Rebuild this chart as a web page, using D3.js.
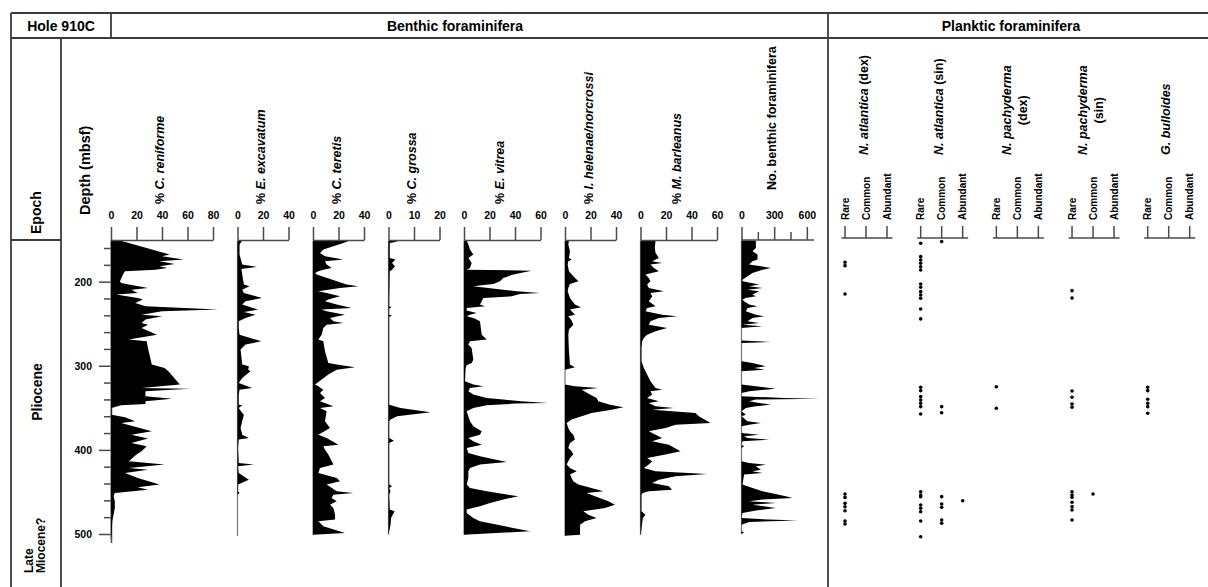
<!DOCTYPE html>
<html>
<head>
<meta charset="utf-8">
<script src="https://cdn.jsdelivr.net/npm/d3@7"></script>
<style>
	body { margin: 0; background: #fff; }
	text { font-family: 'Liberation Sans', Arial, sans-serif; font-weight: bold; fill: #000; }
</style>
</head>
<body>
<div id="chart-area"></div>
<script>

// depth (mbsf), value
const reniforme = [[151.2,7],[167.8,46],[169.8,40],[173.8,57],[175.8,38],[178.9,50],[181.7,38],[183.7,44],[185.7,35],[187.7,11],[189.6,10],[199.5,7],[201.5,8],[203.5,14],[207.5,29],[209.5,16],[213.4,21],[215.4,4],[219.4,21],[221.3,25],[225.3,19],[229.3,27],[233.2,84],[235.2,40],[239.2,24],[241.2,40],[245.1,27],[249.1,24],[251.1,29],[255,24],[263,36],[268.9,14],[270.9,28],[278.8,29],[298.6,32],[302.6,42],[306.6,45],[322.4,54],[326.4,24],[327.2,62],[330.3,27],[336.3,27],[339.1,48],[342.2,27],[345.4,27],[347,8],[350.2,0.5],[358.1,0.5],[361.3,11],[366,19],[368,8],[377.9,32],[381.9,16],[386.6,29],[391.8,16],[395.7,28],[401.7,24],[405.6,20],[413.6,14],[417.5,42],[421.5,14],[423.5,29],[427.4,11],[433.4,21],[441.3,38],[444.5,21],[447.3,29],[451.2,3],[455.2,2],[461.1,3],[469.1,3],[477,2],[484.9,1],[500.8,0.5],[506.7,0]];

const excavatum = [[151.2,3.7],[155.9,1.6],[167.8,1.6],[179.7,3.7],[182.5,15.4],[184.9,3.1],[191.6,3.7],[203.5,5],[205.5,9.4],[209.5,3.7],[213.4,5],[219.4,19.3],[223.3,6.3],[227.3,3.7],[233.2,16],[236,5],[239.2,14.1],[243.1,6.3],[247.1,1],[255,1],[263,1.6],[270.9,18.6],[274.8,6.3],[280.8,2.4],[298.6,3.7],[300.6,8.9],[304.6,8.4],[306.6,10.2],[314.5,3.7],[320.4,1],[326.4,11.5],[328.4,1.6],[334.3,1],[346.2,1],[347,3.7],[350.2,1],[356.1,3.7],[358.1,5],[366,3.7],[373.9,2.4],[381.9,3.7],[385.8,8.9],[387.8,1],[397.7,0.5],[415.6,1],[417.5,12.8],[419.5,0.5],[427.4,1],[435.4,8.9],[441.3,0.5],[449.2,0.5],[451.2,1.6],[453.2,0],[502.5,0]];

const teretis = [[151.2,29],[154,23.8],[161.9,8.1],[165.9,5.5],[169.8,9.4],[173.8,23.8],[175.8,9.4],[179.7,10.7],[183.7,14.6],[185.7,8.1],[187.7,4.2],[189.6,1.6],[191.6,2.9],[203.5,26.4],[205.5,35.6],[207.5,21.2],[211.4,4.2],[213.4,10.7],[217.4,21.2],[221.3,12],[223.3,9.4],[227.3,18.6],[231.3,30.3],[233.2,6.8],[235.2,10.7],[239.2,25.1],[243.1,13.3],[247.1,16],[249.1,23.8],[251.1,10.7],[255,8.1],[263,6.8],[268.9,4.2],[270.9,8.1],[282.8,9.4],[296.6,12],[298.6,18.6],[301.8,32.9],[304.6,18.6],[310.5,12],[322.4,1.6],[324.4,4.2],[328.4,8.1],[332.3,5.5],[338.3,9.4],[342.2,5.5],[348.2,16],[350.2,5.5],[354.1,10.7],[366,9.4],[373.9,13.3],[381.9,4.2],[385.8,10.7],[393.8,19.9],[395.7,8.1],[399.7,9.4],[405.6,12],[417.5,16],[421.5,5.5],[427.4,4.2],[433.4,18.6],[437.4,21.2],[441.3,10.7],[449.2,18.6],[451.2,31.6],[453.2,16],[457.2,14.6],[461.1,18.6],[465.1,13.3],[469.1,16],[477,17.3],[482.9,17.3],[484.9,4.2],[490.9,8.1],[498.8,25.1],[500.8,0]];

const grossa = [[151.2,4],[152.8,2.7],[154,0.5],[171.8,0.5],[173.8,2.7],[177.7,1.4],[181.7,2.5],[185.7,1.4],[187.7,0.5],[229.3,0.3],[230.5,1.2],[232,0.3],[239.2,0.3],[240.4,1.4],[241.6,0.3],[346.2,0.3],[350.2,4.7],[355.3,16.5],[360.1,3.4],[364,0.8],[366,0.3],[385.8,0.3],[389,2.1],[391.8,0.3],[441.3,0.3],[443.3,1.4],[445.3,0.3],[449.2,0.8],[453.2,0.3],[471,0.5],[473,2.4],[480.9,1],[488.9,0.8],[500.8,0]];

const vitrea = [[151.2,2.1],[155.9,3.4],[161.9,4.7],[167.8,7.3],[171.8,3.4],[177.7,6],[183.7,4.7],[185.7,2.1],[186.9,53],[191.6,38.7],[195.6,30.8],[199.5,28.2],[202.7,23],[204.3,13.9],[205.5,7.3],[206.7,13.9],[209.5,30.8],[211.4,41.3],[213.4,59.6],[214.6,43.9],[217.4,37.4],[219.4,15.2],[223.3,13.9],[227.3,12.5],[229.3,16.5],[231.3,2.1],[234.4,2.1],[237.2,9.9],[239.2,4.7],[241.2,2.1],[243.1,7.3],[245.1,9.9],[247.1,12.5],[263,13.9],[268.9,17.8],[270.9,4.7],[274.8,3.4],[278.8,6],[292.7,7.3],[296.6,6],[299.4,2.1],[302.6,1.3],[318.4,0.8],[322.4,7.3],[324.4,15.2],[326.4,4.7],[330.3,3.4],[334.3,7.3],[338.3,17.8],[340.2,30.8],[342.2,45],[344.2,66],[345,40],[347,17.8],[350.2,7.3],[354.1,2.1],[366,4.7],[371.9,7.3],[377.9,13.9],[381.9,12.5],[385.8,3.4],[389.8,7.3],[393.8,13.9],[397.7,2.1],[403.7,3.4],[407.6,12.5],[414.4,33.5],[417.5,12.5],[421.5,4.7],[425.4,3.4],[433.4,3.4],[441.3,2.1],[445.3,4.7],[449.2,17.8],[455.2,42.6],[459.1,30.8],[463.1,20.4],[467.1,12.5],[471,2.1],[475,2.1],[480.9,7.3],[484.9,12.5],[496.8,51.8],[500.8,0]];

const helenae = [[151.2,3.1],[155.9,2.6],[163.9,3.9],[171.8,3.1],[173.8,5.2],[175.8,2.6],[179.7,2.1],[187.7,3.1],[193.6,6.5],[199.5,10.5],[202.7,3.9],[207.5,2.6],[211.4,2.1],[219.4,3.9],[227.3,7.8],[230.5,12.5],[233.2,3.9],[239.2,7.8],[241.2,2.6],[246.3,5.2],[251.1,6.5],[257,3.1],[263,2.6],[282.8,3.1],[298.6,3.9],[301.8,7.8],[304.6,0],[322.4,0],[324.4,7.8],[326.4,26.1],[328.4,13.1],[334.3,19.6],[338.3,24.8],[342.2,26.1],[346.2,35.3],[349.4,45.8],[352.2,36.6],[356.1,20.9],[360.1,13.1],[364,5.2],[368,1.3],[373.9,2.6],[377.9,3.9],[381.9,6.5],[387.8,7.8],[391.8,3.9],[397.7,2.6],[401.7,5.2],[405.6,6.5],[409.6,3.9],[413.6,2.6],[417.5,1.3],[421.5,3.9],[425.4,9.2],[429.4,3.9],[433.4,5.2],[437.4,6.5],[441.3,10.5],[449.2,30.1],[451.2,17],[455.2,23.5],[461.1,34],[465.1,39.2],[469.1,31.4],[473,14.4],[477,18.3],[480.9,24.8],[484.9,15.7],[488.9,11.8],[500.8,11.8],[502,0]];

const barleanus = [[151.2,11.8],[159.9,11.2],[165.9,11.8],[171.8,14.4],[175.8,9.2],[177.7,17],[179.7,7.8],[183.7,10.5],[187.7,14.4],[191.6,3.9],[195.6,6.5],[199.5,7.8],[203.5,5.2],[207.5,6.5],[211.4,18.3],[213.4,7.8],[217.4,9.2],[223.3,6.5],[229.3,11.8],[231.3,5.2],[235.2,3.9],[239.2,17],[241.2,28.8],[243.1,14.4],[247.1,7.8],[251.1,6.5],[255,20.9],[259,11.8],[263,5.2],[266.9,2.6],[270.9,1.3],[278.8,0.8],[294.7,0.8],[302.6,2.6],[310.5,5.2],[318.4,7.8],[326.4,11.8],[328.4,17],[330.3,7.8],[334.3,9.2],[338.3,5.2],[342.2,14.4],[344.2,6.5],[348.2,11.8],[350.2,26.1],[352.2,9.2],[356.1,43.1],[360.1,45.8],[368,54.9],[370,27.5],[373.9,19.6],[377.9,6.5],[381.9,11.8],[385.8,17],[389.8,9.2],[393.8,22.2],[401.7,31.4],[405.6,19.6],[409.6,5.2],[413.6,9.2],[417.5,6.5],[421.5,2.6],[425.4,11.8],[428.6,52.3],[431.4,27.5],[435.4,14.4],[439.3,9.2],[443.3,22.2],[447.3,24.8],[449.2,6.5],[451.2,1.8],[453.2,0.8],[473,0.8],[477,3.9],[480.9,1.8],[500.8,0.3]];

const benthicCount = [[151.2,132],[159.9,132],[163.9,101],[167.8,147],[173.8,147],[175.8,101],[179.7,70],[181.7,178],[183.7,269],[185.7,193],[189.6,101],[193.6,55],[197.6,9],[199.5,9],[203.5,162],[205.5,70],[207.5,193],[209.5,55],[211.4,162],[215.4,101],[217.4,132],[219.4,40],[221.3,9],[223.3,24],[227.3,70],[229.3,147],[231.3,55],[235.2,40],[239.2,132],[241.2,208],[243.1,101],[247.1,55],[249.1,162],[251.1,9],[253.1,193],[255,0],[270.1,0],[270.9,147],[271.7,269],[272.9,0],[294.7,0],[296.6,101],[300.6,223],[302.6,116],[304.6,208],[306.6,0],[322.4,0],[324.4,132],[327.2,315],[330.3,70],[332.3,0],[336.3,0],[338.3,392],[339.1,713],[340.2,132],[342.2,70],[344.2,162],[346.2,269],[348.2,132],[350.2,40],[354.1,0],[358.1,40],[360.1,0],[366,55],[368,178],[370,70],[371.9,0],[379.9,0],[381.9,162],[383.8,24],[385.8,55],[387.8,254],[389.8,9],[393.8,0],[395.7,24],[397.7,0],[413.6,0],[415.6,70],[417.5,223],[419.5,132],[423.5,178],[425.4,101],[427.4,193],[429.4,24],[441.3,9],[445.3,101],[449.2,193],[455.2,407],[457.2,468],[459.1,193],[461.1,70],[463.1,315],[465.1,101],[469.1,315],[472.2,132],[475,9],[480.9,0],[482.9,254],[484.1,514],[485.7,70],[488.9,0],[496.8,0],[498,24],[500,0]];

const benthicSeries = [reniforme, excavatum, teretis, grossa, vitrea, helenae, barleanus, benthicCount];
const benthicPrefix = ['% ', '% ', '% ', '% ', '% ', '% ', '% ', 'No. benthic foraminifera'];
const benthicSpecies = ['C. reniforme', 'E. excavatum', 'C. teretis', 'C. grossa', 'E. vitrea', 'I. helenae/norcrossi', 'M. barleanus', ''];
const benthicMax = [80, 40, 40, 20, 60, 40, 60, 600];
const benthicTicks = [
	[0, 20, 40, 60, 80], [0, 20, 40], [0, 20, 40], [0, 10, 20],
	[0, 20, 40, 60], [0, 20, 40], [0, 20, 40, 60], [0, 150, 300, 450, 600]
];

// planktic occurrences: depth (mbsf), abundance (0 rare, 1 common, 2 abundant)
const atlanticaDex = [[176.9,0],[181,0],[214.6,0],[452.5,0],[456.5,0],[463.6,0],[467.6,0],[472.4,0],[484.5,0],[488.2,0]];
const atlanticaSin = [[154.4,0],[152.4,1],[170.3,0],[174.3,0],[178.2,0],[182.2,0],[186.1,0],[202.7,0],[206.7,0],[211.9,0],[215.8,0],[219.8,0],[232.5,0],[244.3,0],[325.6,0],[329.6,0],[336.7,0],[340.7,0],[344.6,0],[348.6,0],[357.3,0],[348.6,1],[355.8,1],[449.7,0],[453.6,0],[455.6,0],[465.5,0],[469.4,0],[473.5,0],[484.5,0],[503.2,0],[455.6,1],[464.3,1],[468.3,1],[483.4,1],[487.3,1],[460.4,2]];
const pachydermaDex = [[324.9,0],[350.5,0]];
const pachydermaSin = [[210.7,0],[219.4,0],[330,0],[337.5,0],[345.4,0],[349.4,0],[449.7,0],[453.6,0],[456.3,0],[462.3,0],[467.5,0],[471.5,0],[483.4,0],[452.4,1]];
const bulloides = [[325.6,0],[329.6,0],[339.8,0],[344.6,0],[348.6,0],[356.5,0]];

const plankticSeries = [atlanticaDex, atlanticaSin, pachydermaDex, pachydermaSin, bulloides];
const plankticSpecies = ['N. atlantica', 'N. atlantica', 'N. pachyderma', 'N. pachyderma', 'G. bulloides'];
const plankticQualifier = [' (dex)', ' (sin)', '(dex)', '(sin)', ''];
const plankticWrapped = [false, false, true, true, false];
const abundanceLabels = ['Rare', 'Common', 'Abundant'];

const depthMajor = [200, 300, 400, 500];
const depthMinor = [160, 180, 220, 240, 260, 280, 320, 340, 360, 380, 420, 440, 460, 480];

window.addEventListener('DOMContentLoaded', () => {

	const W = 1208, H = 587;
	const lineColor = '#3c3c3c';
	const axisColor = '#4a4a4a';

	const svg = d3.select('#chart-area')
		.append('svg')
		.attr('width', W)
		.attr('height', H);

	// Frame
	const frame = svg.append('g')
		.attr('stroke', lineColor)
		.attr('stroke-width', 1.8)
		.attr('fill', 'none');
	[
		[11, 13, W, 13], [11, 38, W, 38], [11, 13, 11, H],
		[111, 13, 111, 38], [61, 38, 61, H], [11, 240, 61, 240], [828, 13, 828, H]
	].forEach((l) => {
		frame.append('line')
			.attr('x1', l[0]).attr('y1', l[1])
			.attr('x2', l[2]).attr('y2', l[3]);
	});

	// Header texts
	const header = [['Hole 910C', 61], ['Benthic foraminifera', 455], ['Planktic foraminifera', 1011]];
	svg.selectAll('.hdr')
		.data(header)
		.enter()
			.append('text')
			.attr('class', 'hdr')
			.attr('x', (d) => d[1])
			.attr('y', 26)
			.attr('text-anchor', 'middle')
			.attr('dominant-baseline', 'central')
			.style('font-size', '14px')
			.text((d) => d[0]);

	// Epoch column
	const rotText = (x, yPos, anchor, size) => svg.append('text')
		.attr('transform', `translate(${x},${yPos}) rotate(-90)`)
		.attr('text-anchor', anchor)
		.attr('dominant-baseline', 'central')
		.style('font-size', size + 'px');

	rotText(36, 234, 'start', 14).text('Epoch');
	rotText(37, 392, 'middle', 14).text('Pliocene');
	rotText(29, 573, 'start', 12).text('Late');
	rotText(41, 573, 'start', 12).text('Miocene?');

	// Depth scale and axis
	const y = d3.scaleLinear()
		.domain([150, 510])
		.range([239.6, 542.4]);

	const depthAxis = d3.axisLeft(y)
		.tickValues(depthMajor.concat(depthMinor))
		.tickSize(12)
		.tickSizeOuter(0)
		.tickPadding(7)
		.tickFormat((d) => depthMajor.includes(d) ? d : '');
	const gDepth = svg.append('g')
		.attr('transform', 'translate(111,0)')
		.call(depthAxis);
	gDepth.selectAll('.tick line')
		.attr('x2', (d) => depthMajor.includes(d) ? -12 : -7);
	gDepth.selectAll('text')
		.style('font-size', '10.5px')
		.style('font-family', "'Liberation Sans', Arial, sans-serif")
		.style('font-weight', 'bold');
	gDepth.selectAll('path, line')
		.attr('stroke', axisColor)
		.attr('stroke-width', 1.5);

	rotText(85, 215, 'start', 14.5).text('Depth (mbsf)');

	// Benthic panels
	const pxPerUnit = [1.275, 1.275, 1.275, 2.55, 1.275, 1.275, 1.275, 0.1089];
	const gap = 24.5;
	let left = 111;

	benthicSeries.forEach((data, i) => {
		const width = benthicMax[i] * pxPerUnit[i];
		const x = d3.scaleLinear()
			.domain([0, benthicMax[i]])
			.range([left, left + width]);
		const isCount = i === 7;

		// zero line
		svg.append('line')
			.attr('x1', x(0)).attr('x2', x(0))
			.attr('y1', y(151)).attr('y2', y(data[data.length - 1][0]))
			.attr('stroke', '#777')
			.attr('stroke-width', 1.2);

		const area = d3.area()
			.y((d) => y(d[0]))
			.x0(x(0))
			.x1((d) => x(d[1]));

		svg.append('path')
			.datum(data)
			.attr('d', area)
			.attr('fill', '#000');

		// top axis
		const topAxis = d3.axisTop(x)
			.tickValues(benthicTicks[i])
			.tickSize(13)
			.tickSizeOuter(0)
			.tickPadding(8)
			.tickFormat((d) => (isCount && d % 300 !== 0) ? '' : d);
		const gAx = svg.append('g')
			.attr('transform', 'translate(0,240)')
			.call(topAxis);
		if (isCount) {
			gAx.select('.domain').attr('d', `M${x(0)},0H${x(666)}`);
			gAx.selectAll('.tick line')
				.attr('y2', (d) => d % 300 !== 0 ? -8 : -13);
		}
		gAx.selectAll('path, line')
			.attr('stroke', axisColor)
			.attr('stroke-width', 1.5);
		gAx.selectAll('text')
			.style('font-size', '10.5px')
			.style('font-family', "'Liberation Sans', Arial, sans-serif")
			.style('font-weight', 'bold');

		// title
		const t = rotText((x(0) + x(benthicMax[i])) / 2 - 2, isCount ? 190 : 204, 'start', 12.5);
		t.append('tspan').text(benthicPrefix[i]);
		t.append('tspan').style('font-style', 'italic').text(benthicSpecies[i]);

		left += width + gap;
	});

	// Planktic panels
	const panelX = d3.scaleLinear()
		.domain([0, 4])
		.range([845, 1147.7]);
	const ab = d3.scaleLinear()
		.domain([0, 2])
		.range([0, 42]);

	plankticSeries.forEach((data, i) => {
		const g = svg.append('g')
			.attr('transform', `translate(${panelX(i)},0)`);

		g.append('line')
			.attr('x1', -3.5).attr('x2', ab(2) + 5.5)
			.attr('y1', 238).attr('y2', 238)
			.attr('stroke', axisColor)
			.attr('stroke-width', 1.5);

		g.selectAll('.tk')
			.data(abundanceLabels)
			.enter()
				.append('line')
				.attr('x1', (d, k) => ab(k))
				.attr('x2', (d, k) => ab(k))
				.attr('y1', 226)
				.attr('y2', 238)
				.attr('stroke', axisColor)
				.attr('stroke-width', 1.5);

		g.selectAll('.lbl')
			.data(abundanceLabels)
			.enter()
				.append('text')
				.attr('transform', (d, k) => `translate(${ab(k)},220) rotate(-90)`)
				.attr('dominant-baseline', 'central')
				.style('font-size', '10px')
				.text((d) => d);

		g.selectAll('circle')
			.data(data)
			.enter()
				.append('circle')
				.attr('cx', (d) => ab(d[1]))
				.attr('cy', (d) => y(d[0]))
				.attr('r', 1.8)
				.attr('fill', '#000');

		// title
		if (plankticWrapped[i]) {
			const t1 = g.append('text')
				.attr('transform', 'translate(11,155) rotate(-90)')
				.attr('dominant-baseline', 'central')
				.style('font-size', '12.5px');
			t1.append('tspan').style('font-style', 'italic').text(plankticSpecies[i]);
			const len = t1.node().getComputedTextLength();
			g.append('text')
				.attr('transform', `translate(26.5,${155 - len / 2}) rotate(-90)`)
				.attr('text-anchor', 'middle')
				.attr('dominant-baseline', 'central')
				.style('font-size', '12.5px')
				.text(plankticQualifier[i]);
		} else {
			const t = g.append('text')
				.attr('transform', 'translate(18.5,155) rotate(-90)')
				.attr('dominant-baseline', 'central')
				.style('font-size', '12.5px');
			t.append('tspan').style('font-style', 'italic').text(plankticSpecies[i]);
			t.append('tspan').text(plankticQualifier[i]);
		}
	});

});

</script>
</body>
</html>
